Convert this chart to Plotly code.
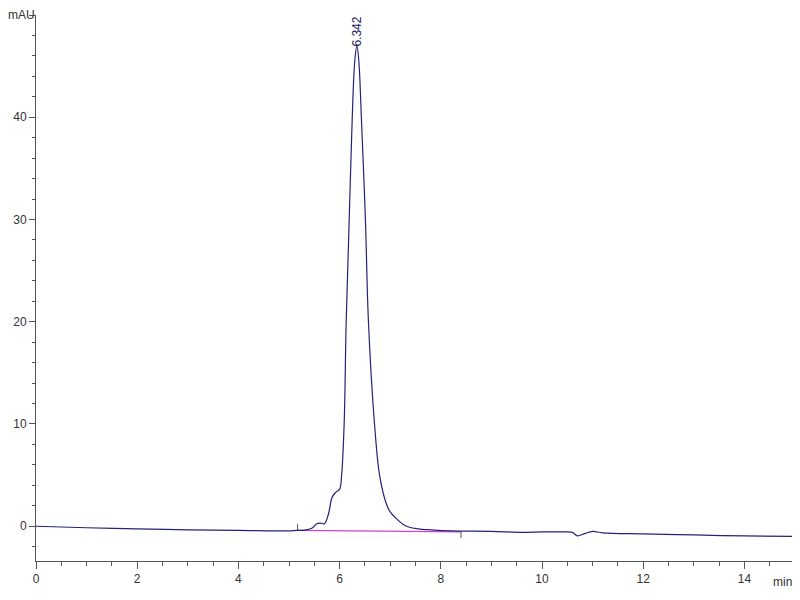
import plotly.graph_objects as go

# Chromatogram trace (time in min, signal in mAU)
time_min = [0, 1, 2, 3, 4, 5, 5.15, 5.3, 5.45, 5.55, 5.62, 5.7, 5.78, 5.85, 5.92, 6.0,
            6.04, 6.09, 6.13, 6.19, 6.25, 6.30, 6.342, 6.38, 6.43, 6.51, 6.57, 6.69, 6.79,
            6.92, 7.0, 7.11, 7.25, 7.38, 7.55, 7.8, 8.2, 9, 9.6, 10, 10.4, 10.6, 10.7,
            10.85, 11.0, 11.2, 12, 13, 14, 15]
signal_mau = [0.0, -0.15, -0.25, -0.35, -0.4, -0.45, -0.4, -0.38, -0.2, 0.25, 0.3, 0.25,
              1.2, 2.8, 3.3, 3.6, 5, 10, 20, 30, 40, 45.5, 47.0, 45.5, 40, 30, 20, 10, 5,
              2.25, 1.4, 0.8, 0.2, -0.1, -0.25, -0.35, -0.45, -0.5, -0.6, -0.55, -0.55,
              -0.6, -0.95, -0.7, -0.5, -0.65, -0.75, -0.85, -0.95, -1.0]

# Integration baseline
base_time = [5.17, 8.4]
base_signal = [-0.4, -0.55]

peak_time = 6.342
peak_height = 47.0
peak_label = "6.342"

x_tickvals = [0, 2, 4, 6, 8, 10, 12, 14]
x_ticktext = ["0", "2", "4", "6", "8", "10", "12", "14"]
y_tickvals = [0, 10, 20, 30, 40, 50]
y_ticktext = ["0", "10", "20", "30", "40", ""]
y_unit = "mAU"
x_unit = "min"

fig = go.Figure()
fig.add_trace(go.Scatter(x=base_time, y=base_signal, mode="lines",
                         line=dict(color="#cc44cc", width=1.2), hoverinfo="skip"))
# integration markers
fig.add_trace(go.Scatter(x=[base_time[0], base_time[0], None, base_time[1], base_time[1]],
                         y=[base_signal[0], base_signal[0] + 0.6, None, base_signal[1], base_signal[1] - 0.6],
                         mode="lines", line=dict(color="#555555", width=1), hoverinfo="skip"))
fig.add_trace(go.Scatter(x=time_min, y=signal_mau, mode="lines",
                         line=dict(color="#23237a", width=1.2), line_shape="spline"))

fig.add_annotation(x=peak_time, y=peak_height, text=peak_label, textangle=-90,
                   showarrow=False, xanchor="center", yanchor="bottom", yshift=-3,
                   font=dict(family="Liberation Sans, Arial", size=12, color="#23235a"))
fig.add_annotation(x=1, xref="paper", y=0, yref="paper", text=x_unit, showarrow=False,
                   xanchor="right", yanchor="top", yshift=-12, xshift=-1,
                   font=dict(family="Liberation Sans Narrow, Liberation Sans", size=12, color="#333333"))
fig.add_annotation(x=-28 / 759, xref="paper", y=50, yref="y", text=y_unit, showarrow=False,
                   xanchor="left", yanchor="middle", borderpad=0, xshift=-1,
                   font=dict(family="Liberation Sans Narrow, Liberation Sans", size=12, color="#333333"))

axis_font = dict(family="Liberation Sans, Arial", size=12, color="#333333")
fig.update_layout(
    width=792, height=592,
    margin=dict(l=28, r=5, t=7, b=39, autoexpand=False),
    paper_bgcolor="white", plot_bgcolor="white",
    showlegend=False,
    xaxis=dict(range=[0, 15], tickvals=x_tickvals, ticktext=x_ticktext, automargin=False,
               showgrid=False, zeroline=False, showline=True, linecolor="#555555",
               linewidth=1, ticks="outside", ticklen=7, tickcolor="#555555",
               tickfont=axis_font,
               minor=dict(dtick=0.5, ticks="outside", ticklen=4, tickcolor="#555555")),
    yaxis=dict(range=[-3.4, 50], tickvals=y_tickvals, ticktext=y_ticktext, automargin=False,
               showgrid=False, zeroline=False, showline=True, linecolor="#555555",
               linewidth=1, ticks="outside", ticklen=6, tickcolor="#555555",
               tickfont=axis_font,
               minor=dict(dtick=2, tick0=0, ticks="outside", ticklen=3, tickcolor="#555555")),
)

fig.write_html("out.html")
